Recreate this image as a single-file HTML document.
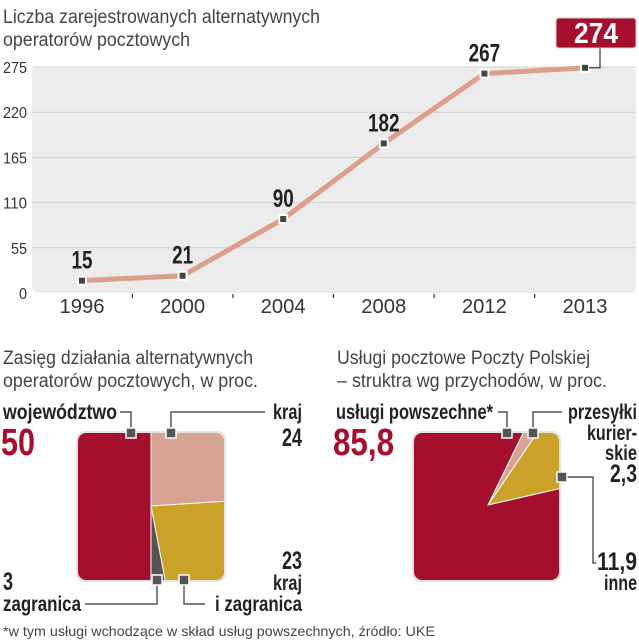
<!DOCTYPE html>
<html><head><meta charset="utf-8"><style>
body{margin:0;background:#fff;width:639px;height:640px;overflow:hidden}
svg{display:block}
text{font-family:"Liberation Sans Narrow","Liberation Sans",sans-serif}
.t{font-size:19px;fill:#444}
.l{font-size:21px;font-weight:bold;fill:#222}
.n{font-size:25px;font-weight:bold;fill:#222}
.ax{font-size:16px;fill:#333}
</style></head><body>
<svg id="s" width="639" height="640">
<text class="t" x="3" y="23" textLength="317" lengthAdjust="spacingAndGlyphs">Liczba zarejestrowanych alternatywnych</text>
<text class="t" x="3" y="46" textLength="187" lengthAdjust="spacingAndGlyphs">operatorów pocztowych</text>
<rect x="32" y="67" width="604" height="226" rx="6" fill="#ececec"/>
<g id="grid"></g><g id="line"></g>
<text class="t" x="3" y="364" textLength="250" lengthAdjust="spacingAndGlyphs">Zasięg działania alternatywnych</text>
<text class="t" x="3" y="387" textLength="255" lengthAdjust="spacingAndGlyphs">operatorów pocztowych, w proc.</text>
<text class="t" x="337" y="364" textLength="253" lengthAdjust="spacingAndGlyphs">Usługi pocztowe Poczty Polskiej</text>
<text class="t" x="337" y="387" textLength="270" lengthAdjust="spacingAndGlyphs">– struktra wg przychodów, w proc.</text>
<defs>
<clipPath id="c1"><rect x="78" y="433" width="146" height="147" rx="8"/></clipPath>
<clipPath id="c2"><rect x="414" y="433" width="145" height="147" rx="8"/></clipPath>
</defs>
<rect x="76" y="431" width="150" height="151" rx="9" fill="#e4e4e4"/>
<rect x="412" y="431" width="149" height="151" rx="9" fill="#e4e4e4"/>
<g id="pie1" clip-path="url(#c1)"></g>
<g id="pie2" clip-path="url(#c2)"></g>
<g fill="none" stroke="#333" stroke-width="1.2">
<polyline points="120,412 131,412 131,433"/>
<polyline points="171,433 171,412 265,412"/>
<polyline points="157,580 157,604 85,604"/>
<polyline points="184,580 184,604 205,604"/>
<polyline points="498,412 507,412 507,433"/>
<polyline points="533,433 533,412 562,412"/>
<polyline points="562,477 593,477 593,563 596,563"/>
</g>
<g id="marks"></g>
<text class="l" x="3" y="419" textLength="114" lengthAdjust="spacingAndGlyphs">województwo</text>
<text x="1" y="455" textLength="34" lengthAdjust="spacingAndGlyphs" style="font-size:38px;font-weight:bold;fill:#a50f2d">50</text>
<text class="l" x="302" y="419" textLength="29" lengthAdjust="spacingAndGlyphs" text-anchor="end">kraj</text>
<text class="n" x="302" y="446" textLength="20" lengthAdjust="spacingAndGlyphs" text-anchor="end">24</text>
<text class="n" x="302" y="569" textLength="20" lengthAdjust="spacingAndGlyphs" text-anchor="end">23</text>
<text class="l" x="302" y="590" textLength="29" lengthAdjust="spacingAndGlyphs" text-anchor="end">kraj</text>
<text class="l" x="302" y="611" textLength="87" lengthAdjust="spacingAndGlyphs" text-anchor="end">i zagranica</text>
<text class="n" x="3" y="590" textLength="10" lengthAdjust="spacingAndGlyphs">3</text>
<text class="l" x="3" y="611" textLength="78" lengthAdjust="spacingAndGlyphs">zagranica</text>
<text class="l" x="336" y="419" textLength="157" lengthAdjust="spacingAndGlyphs">usługi powszechne*</text>
<text x="333" y="455" textLength="61" lengthAdjust="spacingAndGlyphs" style="font-size:38px;font-weight:bold;fill:#a50f2d">85,8</text>
<text class="l" x="637" y="419" textLength="69" lengthAdjust="spacingAndGlyphs" text-anchor="end">przesyłki</text>
<text class="l" x="637" y="440" textLength="50" lengthAdjust="spacingAndGlyphs" text-anchor="end">kurier-</text>
<text class="l" x="637" y="460" textLength="32" lengthAdjust="spacingAndGlyphs" text-anchor="end">skie</text>
<text class="n" x="637" y="482" textLength="27" lengthAdjust="spacingAndGlyphs" text-anchor="end">2,3</text>
<text class="n" x="637" y="570" textLength="40" lengthAdjust="spacingAndGlyphs" text-anchor="end">11,9</text>
<text class="l" x="637" y="590" textLength="33" lengthAdjust="spacingAndGlyphs" text-anchor="end">inne</text>
<text x="3" y="636" textLength="432" lengthAdjust="spacingAndGlyphs" style="font-size:14px;fill:#444">*w tym usługi wchodzące w skład usług powszechnych, źródło: UKE</text>
</svg>
<script>
const years=["1996","2000","2004","2008","2012","2013"];
const values=[15,21,90,182,267,274];
const yTicks=[0,55,110,165,220,275];
const pie1Values=[24,23,3,50];
const pie1Colors=["#d9a393","#c9a227","#555","#a50f2d"];
const pie2Values=[2.3,11.9,85.8];
const pie2Colors=["#d9a393","#c9a227","#a50f2d"];
const NS="http://www.w3.org/2000/svg";
function mk(t,a,p){const e=document.createElementNS(NS,t);for(const k in a)e.setAttribute(k,a[k]);p.appendChild(e);return e;}
const y=v=>293-v*226/275;
const x=i=>82+i*100.6;
const g=document.getElementById('grid');
yTicks.forEach(v=>{
 if(v>0){const ln=mk('line',{x1:32,x2:636,y1:y(v),y2:y(v),stroke:'#d2d2d2','stroke-width':1},g);
 
 }
 const s=String(v);
 const t=mk('text',{x:27,y:y(v)+6,'text-anchor':'end',class:'ax',textLength:s.length*8,lengthAdjust:'spacingAndGlyphs'},g);t.textContent=s;
 
 
});
years.forEach((yr,i)=>{
 const t=mk('text',{x:x(i),y:313,'text-anchor':'middle',class:'ax',style:'font-size:20px',textLength:45,lengthAdjust:'spacingAndGlyphs'},g);t.textContent=yr;
 
 
 if(i>0){const tk=mk('line',{x1:x(i)-50.3,x2:x(i)-50.3,y1:294,y2:298,stroke:'#333','stroke-width':1.2},g);
 
 }
});
const L=document.getElementById('line');
const pl=mk('polyline',{points:values.map((v,i)=>x(i)+','+y(v)).join(' '),fill:'none',stroke:'#dca08a','stroke-width':5,'stroke-linejoin':'round'},L);


values.forEach((v,i)=>{
 const m=mk('rect',{x:x(i)-4,y:y(v)-4,width:8,height:8,fill:'#444',stroke:'#fff','stroke-width':2},L);
 
 
 const s=String(v);
 if(i<values.length-1){
  const t=mk('text',{x:x(i),y:y(v)-12,'text-anchor':'middle',class:'n',textLength:s.length*10.5,lengthAdjust:'spacingAndGlyphs'},L);t.textContent=s;
  
  
 }else{
  mk('polyline',{points:(x(i)+4)+','+y(v)+' '+(x(i)+15)+','+y(v)+' '+(x(i)+15)+','+(y(v)-20),fill:'none',stroke:'#333','stroke-width':1.2},L);
  const b=mk('rect',{x:556,y:18,width:80,height:30,rx:3,fill:'#a50f2d',stroke:'#ccc','stroke-width':1},L);
  
  
  const t=mk('text',{x:596,y:43,'text-anchor':'middle',style:'font-size:29px;font-weight:bold;fill:#fff',textLength:44,lengthAdjust:'spacingAndGlyphs'},L);t.textContent=s;
  
  
 }
});
function pie(id,vals,cols,cx,cy,start){
 const G=document.getElementById(id);let a=start*Math.PI/180;const R=200;
 vals.forEach((v,i)=>{
  const a2=a+v/100*2*Math.PI;
  const p=(ang)=>(cx+R*Math.sin(ang))+','+(cy-R*Math.cos(ang));
  const large=(a2-a)>Math.PI?1:0;
  const s=mk('path',{d:'M'+cx+','+cy+' L'+p(a)+' A'+R+','+R+' 0 '+large+' 1 '+p(a2)+' Z',fill:cols[i],stroke:'#fff','stroke-width':1},G);
  
  
  a=a2;
 });
}
pie('pie1',pie1Values,pie1Colors,151,506,0);
pie('pie2',pie2Values,pie2Colors,488,505,26);
const M=document.getElementById('marks');
[[131,433],[171,433],[157,580],[184,580],[507,433],[533,433],[562,477]].forEach(p=>{
 const r=mk('rect',{x:p[0]-5,y:p[1]-5,width:10,height:10,fill:'#555',stroke:'#fff','stroke-width':1.5},M);
 
 
});
</script>
</body></html>
